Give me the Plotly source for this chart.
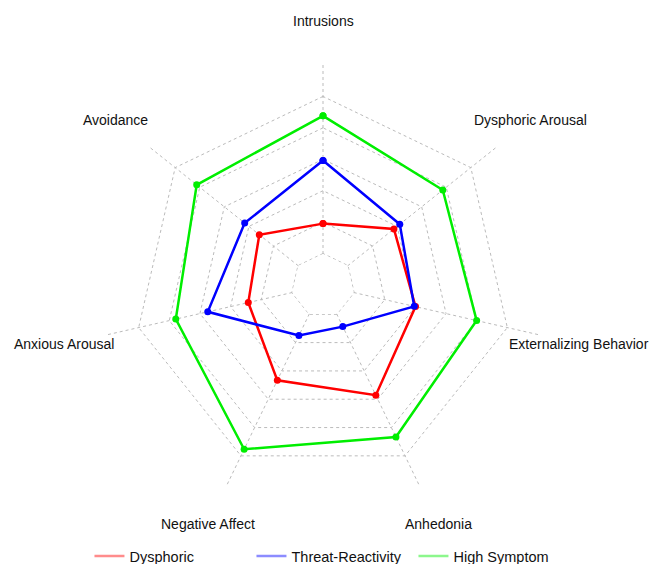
import numpy as np
import plotly.graph_objects as go

categories = ["Intrusions", "Avoidance", "Anxious Arousal", "Negative Affect",
              "Anhedonia", "Externalizing Behavior", "Dysphoric Arousal"]
dysphoric = [0.279, 0.368, 0.346, 0.476, 0.551, 0.429, 0.410]
threat_reactivity = [0.566, 0.453, 0.535, 0.250, 0.205, 0.423, 0.444]
high_symptom = [0.769, 0.732, 0.684, 0.824, 0.762, 0.714, 0.694]
series_names = ["Dysphoric", "Threat-Reactivity", "High Symptom"]
series_colors = ["#FF0000", "#0000FF", "#00EE00"]
legend_colors = ["rgba(255,0,0,0.45)", "rgba(0,0,255,0.45)", "rgba(0,238,0,0.45)"]
n_rings = 7
grid_vals = [k / n_rings for k in range(1, n_rings + 1)]

W, H = 657, 564
cx, cy, R = 315, 286, 221  # polar centre (px from left, px from bottom) and radius

fig = go.Figure()
# innermost guide ring (edge of the centre gap)
fig.add_trace(go.Scatterpolar(
    r=[grid_vals[0]] * (len(categories) + 1), theta=categories + categories[:1],
    mode="lines", line=dict(color="#BBBBBB", width=1, dash="dot"),
    hoverinfo="skip", showlegend=False))
for name, vals, col in zip(series_names, [dysphoric, threat_reactivity, high_symptom], series_colors):
    fig.add_trace(go.Scatterpolar(
        r=vals + vals[:1], theta=categories + categories[:1], mode="lines+markers",
        line=dict(color=col, width=2.5), marker=dict(color=col, size=7),
        showlegend=False, name=name))
for name, col in zip(series_names, legend_colors):
    fig.add_trace(go.Scatterpolar(r=[None], theta=[categories[0]], mode="lines",
                                  line=dict(color=col, width=2.5), name=name))

angles = np.deg2rad(90 + 360 / len(categories) * np.arange(len(categories)))
annotations = []
for lab, a in zip(categories, angles):
    annotations.append(dict(
        x=(cx + 1.2 * R * np.cos(a)) / W, y=(cy + 1.2 * R * np.sin(a)) / H,
        xref="paper", yref="paper", text=lab, showarrow=False,
        xanchor="center", yanchor="middle", xshift=-3 if np.cos(a) > 0.9 else 0,
        font=dict(family="Liberation Sans, Arial", size=14, color="#111111")))

fig.update_layout(
    width=W, height=H,
    margin=dict(l=0, r=0, t=0, b=0),
    paper_bgcolor="white", plot_bgcolor="white",
    font=dict(family="Liberation Sans, Arial", size=14, color="#111111"),
    polar=dict(
        domain=dict(x=[(cx - R) / W, (cx + R) / W], y=[(cy - R) / H, (cy + R) / H]),
        bgcolor="white", gridshape="linear", hole=1 / n_rings,
        radialaxis=dict(range=[1 / n_rings - 0.002, 1.0005], tickvals=grid_vals,
                        showticklabels=False, ticks="", showline=False,
                        gridcolor="#BBBBBB", griddash="dot", gridwidth=1),
        angularaxis=dict(direction="counterclockwise", rotation=90,
                         showticklabels=False, ticks="", showline=False,
                         gridcolor="#BBBBBB", griddash="dot", gridwidth=1),
    ),
    legend=dict(orientation="h", x=0.124, y=0.027, xanchor="left", yanchor="middle",
                entrywidth=117, font=dict(size=14.5), bgcolor="rgba(0,0,0,0)"),
    annotations=annotations,
)
fig.write_html("out.html")
